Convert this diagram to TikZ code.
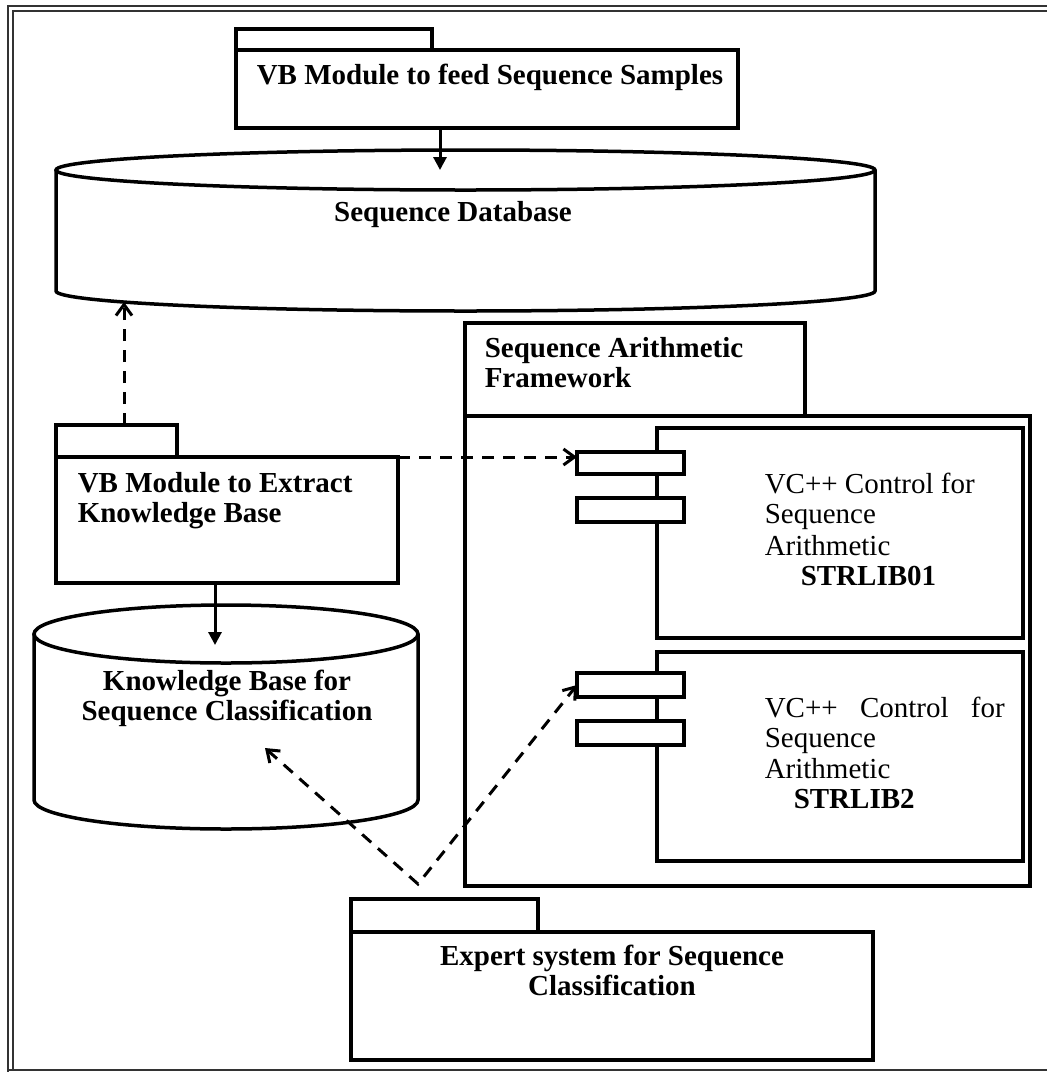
\documentclass[tikz,border=0pt]{standalone}
\usepackage{fontspec}
\setmainfont{Liberation Serif}
\usetikzlibrary{arrows.meta}
\begin{document}
\begin{tikzpicture}[x=1pt,y=-1pt,line width=3.5pt,
  box/.style={draw,line width=3.5pt,inner sep=0pt,outer sep=0pt,anchor=north west,fill=white},
  lbl/.style={inner sep=0pt,font=\fontsize{29}{32}\selectfont\bfseries},
  reg/.style={inner sep=0pt,font=\fontsize{29}{32}\selectfont},
  solidarrow/.style={line width=3pt,-{Triangle[length=13pt,width=13pt]}},
  dasharrow/.style={line width=3pt,dash pattern=on 12pt off 9pt,-{Straight Barb[length=11pt,width=16pt,line width=3pt]}},
  framelinestyle/.style={line width=1.8pt,draw=black!80}]
\useasboundingbox (0,0) rectangle (1047,1072);
% outer frame
\draw[framelinestyle] (8,1072) -- (8,6) -- (1047,6);
\draw[framelinestyle] (13,1070) -- (13,11) -- (1047,11);
\draw[framelinestyle] (8,1070) -- (1047,1070);
% package 1
\node[box,minimum width=196pt,minimum height=21pt] (p1tab) at (236,29) {};
\node[box,minimum width=502pt,minimum height=78pt] (p1body) at (236,50) {};
\node[lbl,anchor=base west] (p1txt) at (255,84) {VB Module to feed Sequence Samples};
% sequence database cylinder
\draw (465.5,170) ellipse [x radius=409.5, y radius=20];
\draw (56,170) -- (56,291) arc[start angle=180,end angle=0,x radius=409.5,y radius=20] -- (875,170);
\node[lbl,anchor=base] (dbtxt) at (453,221) {Sequence Database};
\coordinate (dbtop) at (440,170);
\coordinate (dbbot) at (124,302);
\draw[solidarrow] (p1body.south -| dbtop) -- (dbtop);
% package 2
\node[box,minimum width=121pt,minimum height=32pt] (p2tab) at (56,425) {};
\node[box,minimum width=342pt,minimum height=126pt] (p2body) at (56,457) {};
\node[lbl,anchor=base west] (p2a) at (76,492) {VB Module to Extract};
\node[lbl,anchor=base west] (p2b) at (76,522) {Knowledge Base};
\draw[dasharrow] (p2tab.north -| dbbot) -- (dbbot);
% knowledge base cylinder
\draw (226,634) ellipse [x radius=192, y radius=29];
\draw (34,634) -- (34,800) arc[start angle=180,end angle=0,x radius=192,y radius=29] -- (418,634);
\node[lbl,anchor=base] (kba) at (227,690) {Knowledge Base for};
\node[lbl,anchor=base] (kbb) at (227,720) {Sequence Classification};
\coordinate (kbtop) at (215,645);
\coordinate (kbend) at (265,748);
\draw[solidarrow] (p2body.south -| kbtop) -- (kbtop);
% framework
\node[box,minimum width=340pt,minimum height=93pt] (fwtab) at (465,323) {};
\node[box,minimum width=565pt,minimum height=470pt] (fwbody) at (465,416) {};
\node[lbl,anchor=base west] (fwa) at (483,357) {Sequence Arithmetic};
\node[lbl,anchor=base west] (fwb) at (483,387) {Framework};
% component 1
\node[box,minimum width=366pt,minimum height=210pt] (c1) at (657,428) {};
\node[box,minimum width=107pt,minimum height=22pt] (c1p1) at (577,452) {};
\node[box,minimum width=107pt,minimum height=24pt] (c1p2) at (577,498) {};
\node[reg,anchor=base west] (c1a) at (763,493) {VC++ Control for};
\node[reg,anchor=base west] (c1b) at (763,523) {Sequence};
\node[reg,anchor=base west] (c1c) at (763,555) {Arithmetic};
\node[lbl,anchor=base west] (c1d) at (799,585) {STRLIB01};
% component 2
\node[box,minimum width=366pt,minimum height=209pt] (c2) at (657,652) {};
\node[box,minimum width=107pt,minimum height=24pt] (c2p1) at (577,673) {};
\node[box,minimum width=107pt,minimum height=24pt] (c2p2) at (577,721) {};
\node[reg,anchor=base west] (c2a) at (763,717) {\makebox[240pt][s]{VC++ Control for}};
\node[reg,anchor=base west] (c2b) at (763,747) {Sequence};
\node[reg,anchor=base west] (c2c) at (763,778) {Arithmetic};
\node[lbl,anchor=base west] (c2d) at (792,808) {STRLIB2};
% dashed from package 2 to component 1
\draw[dasharrow] (p2body.north east) -- (p2body.north east -| c1p1.west);
% expert system
\node[box,minimum width=187pt,minimum height=33pt] (extab) at (351,899) {};
\node[box,minimum width=522pt,minimum height=128pt] (exbody) at (351,932) {};
\node[lbl,anchor=base] (exa) at (612,965) {Expert system for Sequence};
\node[lbl,anchor=base] (exb) at (612,995) {Classification};
% V-shaped dashed connector
\coordinate (v) at (418,884);
\draw[dasharrow,{Straight Barb[length=11pt,width=16pt,line width=3pt]}-{Straight Barb[length=11pt,width=16pt,line width=3pt]}] (kbend) -- (v) -- (c2p1.west);
\end{tikzpicture}
\end{document}
